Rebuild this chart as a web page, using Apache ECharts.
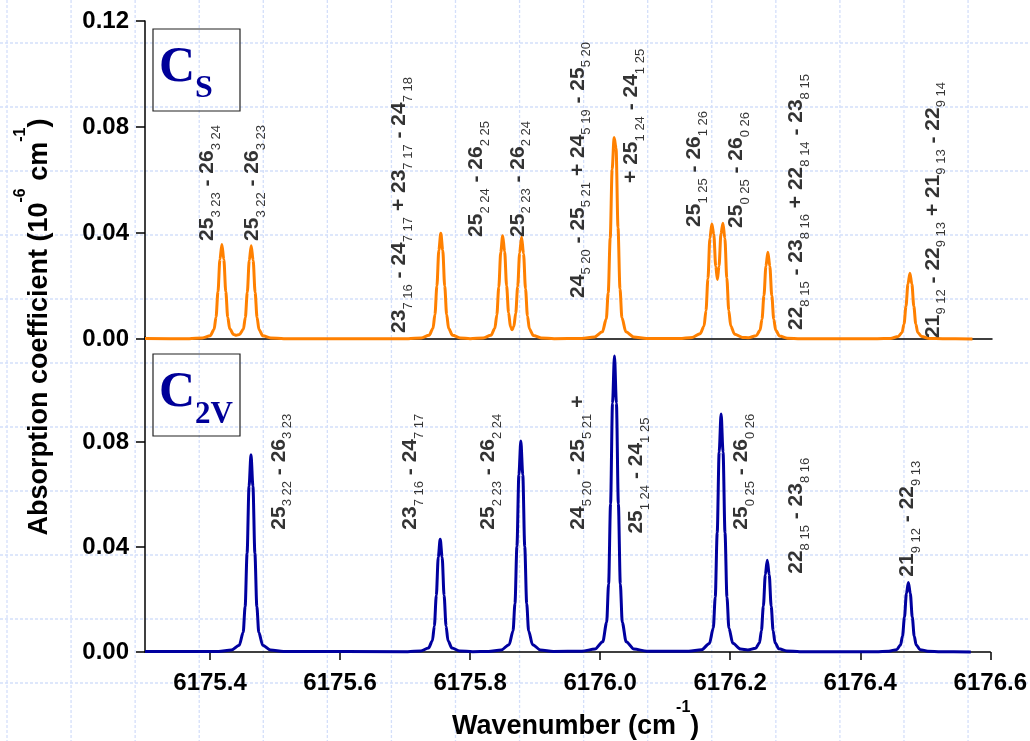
<!DOCTYPE html>
<html>
<head>
<meta charset="utf-8">
<script src="https://cdn.jsdelivr.net/npm/echarts@6/dist/echarts.min.js"></script>
<style>
  html, body { margin: 0; padding: 0; background: #fff; }
  #main { width: 1030px; height: 741px; }
</style>
</head>
<body>
<div id="main"></div>
<script>
// 两组模拟光谱：上面 Cs (橙色)，下面 C2v (蓝色)

// 横轴刻度
const xTicks = [6175.4, 6175.6, 6175.8, 6176.0, 6176.2, 6176.4, 6176.6];

// Cs 光谱 [波数, 吸收系数]
const csSpectrum = [
  [6175.300, 0.0002], [6175.368, 0.0001], [6175.388, 0.0004], [6175.400, 0.0012],
  [6175.406, 0.0036], [6175.409, 0.0082], [6175.412, 0.0179], [6175.415, 0.0300],
  [6175.418, 0.0357], [6175.421, 0.0300], [6175.424, 0.0179], [6175.427, 0.0082],
  [6175.430, 0.0039], [6175.436, 0.0017], [6175.440, 0.0014], [6175.445, 0.0017],
  [6175.451, 0.0037], [6175.454, 0.0081], [6175.457, 0.0176], [6175.460, 0.0296],
  [6175.463, 0.0352], [6175.466, 0.0296], [6175.469, 0.0176], [6175.472, 0.0081],
  [6175.475, 0.0035], [6175.481, 0.0012], [6175.493, 0.0004], [6175.513, 0.0001],
  [6175.704, 0.0001], [6175.724, 0.0004], [6175.736, 0.0014], [6175.742, 0.0040],
  [6175.745, 0.0092], [6175.748, 0.0200], [6175.751, 0.0335], [6175.754, 0.0399],
  [6175.757, 0.0335], [6175.760, 0.0200], [6175.763, 0.0092], [6175.766, 0.0040],
  [6175.772, 0.0014], [6175.784, 0.0004], [6175.799, 0.0001], [6175.819, 0.0004],
  [6175.831, 0.0014], [6175.837, 0.0041], [6175.840, 0.0091], [6175.843, 0.0196],
  [6175.846, 0.0327], [6175.849, 0.0390], [6175.852, 0.0330], [6175.855, 0.0201],
  [6175.858, 0.0100], [6175.861, 0.0045], [6175.8635, 0.0035], [6175.866, 0.0046],
  [6175.869, 0.0097], [6175.872, 0.0198], [6175.875, 0.0325], [6175.878, 0.0384],
  [6175.881, 0.0322], [6175.884, 0.0190], [6175.887, 0.0087], [6175.890, 0.0038],
  [6175.896, 0.0013], [6175.908, 0.0004], [6175.928, 0.0001], [6175.970, 0.0002],
  [6175.990, 0.0008], [6176.002, 0.0027], [6176.008, 0.0076], [6176.011, 0.0175],
  [6176.014, 0.0380], [6176.017, 0.0640], [6176.020, 0.0760], [6176.023, 0.0720],
  [6176.026, 0.0420], [6176.029, 0.0190], [6176.032, 0.0080], [6176.038, 0.0027],
  [6176.050, 0.0008], [6176.070, 0.0002], [6176.120, 0.0002], [6176.140, 0.0006],
  [6176.152, 0.0020], [6176.158, 0.0048], [6176.161, 0.0107], [6176.164, 0.0227],
  [6176.167, 0.0380], [6176.170, 0.0434], [6176.173, 0.0395], [6176.176, 0.0274],
  [6176.1785, 0.0225], [6176.181, 0.0275], [6176.184, 0.0397], [6176.187, 0.0437],
  [6176.190, 0.0380], [6176.193, 0.0229], [6176.196, 0.0108], [6176.199, 0.0049],
  [6176.205, 0.0018], [6176.217, 0.0006], [6176.226, 0.0005], [6176.238, 0.0012],
  [6176.244, 0.0033], [6176.247, 0.0075], [6176.250, 0.0164], [6176.253, 0.0275],
  [6176.256, 0.0327], [6176.259, 0.0275], [6176.262, 0.0164], [6176.265, 0.0075],
  [6176.268, 0.0033], [6176.274, 0.0011], [6176.286, 0.0003], [6176.306, 0.0001],
  [6176.424, 0.0001], [6176.444, 0.0002], [6176.456, 0.0009], [6176.462, 0.0025],
  [6176.465, 0.0057], [6176.468, 0.0124], [6176.471, 0.0208], [6176.474, 0.0248],
  [6176.477, 0.0208], [6176.480, 0.0124], [6176.483, 0.0057], [6176.486, 0.0025],
  [6176.492, 0.0009], [6176.504, 0.0002], [6176.524, 0.0001], [6176.570, 0.0000]
];

// C2v 光谱 [波数, 吸收系数]
const c2vSpectrum = [
  [6175.300, 0.0002], [6175.413, 0.0002], [6175.433, 0.0008], [6175.445, 0.0026],
  [6175.451, 0.0075], [6175.454, 0.0173], [6175.457, 0.0376], [6175.460, 0.0631],
  [6175.463, 0.0751], [6175.466, 0.0631], [6175.469, 0.0376], [6175.472, 0.0173],
  [6175.475, 0.0075], [6175.481, 0.0026], [6175.493, 0.0008], [6175.513, 0.0002],
  [6175.704, 0.0001], [6175.724, 0.0004], [6175.736, 0.0015], [6175.742, 0.0043],
  [6175.745, 0.0099], [6175.748, 0.0215], [6175.751, 0.0361], [6175.754, 0.0430],
  [6175.757, 0.0361], [6175.760, 0.0215], [6175.763, 0.0099], [6175.766, 0.0043],
  [6175.772, 0.0015], [6175.784, 0.0004], [6175.804, 0.0001], [6175.828, 0.0002],
  [6175.848, 0.0008], [6175.860, 0.0028], [6175.866, 0.0080], [6175.869, 0.0185],
  [6175.872, 0.0402], [6175.875, 0.0675], [6175.878, 0.0804], [6175.881, 0.0675],
  [6175.884, 0.0402], [6175.887, 0.0185], [6175.890, 0.0080], [6175.896, 0.0028],
  [6175.908, 0.0008], [6175.928, 0.0002], [6175.972, 0.0003], [6175.992, 0.0011],
  [6176.004, 0.0039], [6176.010, 0.0113], [6176.013, 0.0259], [6176.016, 0.0564],
  [6176.019, 0.0948], [6176.022, 0.1128], [6176.025, 0.0948], [6176.028, 0.0564],
  [6176.031, 0.0259], [6176.034, 0.0113], [6176.040, 0.0039], [6176.052, 0.0011],
  [6176.072, 0.0003], [6176.136, 0.0003], [6176.156, 0.0009], [6176.168, 0.0032],
  [6176.174, 0.0091], [6176.177, 0.0209], [6176.180, 0.0454], [6176.183, 0.0762],
  [6176.186, 0.0907], [6176.189, 0.0762], [6176.192, 0.0454], [6176.195, 0.0209],
  [6176.198, 0.0091], [6176.204, 0.0033], [6176.216, 0.0011], [6176.227, 0.0008],
  [6176.239, 0.0014], [6176.245, 0.0035], [6176.248, 0.0081], [6176.251, 0.0175],
  [6176.254, 0.0294], [6176.257, 0.0350], [6176.260, 0.0294], [6176.263, 0.0175],
  [6176.266, 0.0081], [6176.269, 0.0035], [6176.275, 0.0012], [6176.287, 0.0004],
  [6176.307, 0.0001], [6176.424, 0.0001], [6176.444, 0.0003], [6176.456, 0.0009],
  [6176.462, 0.0027], [6176.465, 0.0061], [6176.468, 0.0133], [6176.471, 0.0223],
  [6176.474, 0.0265], [6176.477, 0.0223], [6176.480, 0.0133], [6176.483, 0.0061],
  [6176.486, 0.0027], [6176.492, 0.0009], [6176.504, 0.0003], [6176.524, 0.0001],
  [6176.570, 0.0000]
];

// 谱线标注 [波数, 起点高度, 文字]，_{..} 为下标
const csLabels = [
  [6175.400, 0.0370, '25_{3 23} - 26_{3 24}'],
  [6175.469, 0.0370, '25_{3 22} - 26_{3 23}'],
  [6175.694, 0.0023, '23_{7 16} - 24_{7 17} + 23_{7 17} - 24_{7 18}'],
  [6175.812, 0.0385, '25_{2 24} - 26_{2 25}'],
  [6175.876, 0.0385, '25_{2 23} - 26_{2 24}'],
  [6175.968, 0.0155, '24_{5 20} - 25_{5 21} + 24_{5 19} - 25_{5 20}'],
  [6176.050, 0.0589, '+ 25_{1 24} - 24_{1 25}'],
  [6176.1465, 0.0423, '25_{1 25} - 26_{1 26}'],
  [6176.211, 0.0419, '25_{0 25} - 26_{0 26}'],
  [6176.303, 0.0034, '22_{8 15} - 23_{8 16} + 22_{8 14} - 23_{8 15}'],
  [6176.513, 0.0004, '21_{9 12} - 22_{9 13} + 21_{9 13} - 22_{9 14}']
];

const c2vLabels = [
  [6175.5095, 0.0466, '25_{3 22} - 26_{3 23}'],
  [6175.712, 0.0466, '23_{7 16} - 24_{7 17}'],
  [6175.832, 0.0466, '25_{2 23} - 26_{2 24}'],
  [6175.970, 0.0466, '24_{5 20} - 25_{5 21} +'],
  [6176.060, 0.0451, '25_{1 24} - 24_{1 25}'],
  [6176.221, 0.0466, '25_{0 25} - 26_{0 26}'],
  [6176.305, 0.0298, '22_{8 15} - 23_{8 16}'],
  [6176.4765, 0.0287, '21_{9 12} - 22_{9 13}']
];

const SANS = '"Liberation Sans", Arial, sans-serif';
const SERIF = '"Liberation Serif", "Times New Roman", serif';

// 把 _{..} 标记转成 rich 文本
const toRich = (s) =>
  ('{a|' + s.replace(/_\{([^}]*)\}/g, '}{s|$1}{a|') + '}').replace(/\{a\|\}/g, '');

const peakLabel = {
  show: true,
  position: 'inside',
  rotate: 90,
  align: 'left',
  verticalAlign: 'middle',
  formatter: (p) => toRich(p.data[2]),
  rich: {
    a: { fontFamily: SANS, fontSize: 21, fontWeight: 'bold', color: '#000', lineHeight: 20, verticalAlign: 'top' },
    s: { fontFamily: SANS, fontSize: 13, fontWeight: 'normal', color: '#000', lineHeight: 26, verticalAlign: 'bottom' }
  }
};

// 背景的浅蓝色虚线方格
const bgGraphics = [];
for (let x = 7; x < 1030; x += 64.07) {
  bgGraphics.push({
    type: 'line', z: -10, silent: true,
    shape: { x1: x, y1: 0, x2: x, y2: 741 },
    style: { stroke: '#d4dffa', lineWidth: 1.3, lineDash: [3, 2] }
  });
}
for (let y = -21; y < 741; y += 64) {
  bgGraphics.push({
    type: 'line', z: -10, silent: true,
    shape: { x1: 0, y1: y, x2: 1030, y2: y },
    style: { stroke: '#d4dffa', lineWidth: 1.3, lineDash: [3, 2] }
  });
}

// 对称性标签框
const symBox = (top, sub, subSize) => [
  {
    type: 'rect', z: 50, silent: true,
    shape: { x: 153, y: top, width: 87, height: 82 },
    style: { fill: null, stroke: '#222', lineWidth: 1.2 }
  },
  {
    type: 'text', z: 51, silent: true,
    x: 159, y: top + 45,
    style: {
      text: '{c|C}{s|' + sub + '}',
      align: 'left', verticalAlign: 'middle',
      rich: {
        c: { fontFamily: SERIF, fontSize: 50, fontWeight: 'bold', fill: '#000099', lineHeight: 44, verticalAlign: 'top' },
        s: { fontFamily: SERIF, fontSize: subSize, fontWeight: 'bold', fill: '#000099', lineHeight: 62, verticalAlign: 'bottom' }
      }
    }
  }
];

const yTitle = {
  type: 'text', z: 50, silent: true,
  x: 33, y: 327, rotation: Math.PI / 2,
  style: {
    text: '{t|Absorption coefficient (10}{p|-6}{t| cm}{p|-1}{t|)}',
    align: 'center', verticalAlign: 'middle',
    rich: {
      t: { fontFamily: SANS, fontSize: 27, fontWeight: 'bold', fill: '#000', lineHeight: 40, verticalAlign: 'bottom' },
      p: { fontFamily: SANS, fontSize: 16, fontWeight: 'bold', fill: '#000', lineHeight: 16, verticalAlign: 'top' }
    }
  }
};

const axisLineStyle = { color: '#000', width: 1.5 };
const yLabel = {
  fontFamily: SANS, fontSize: 24, fontWeight: 'bold', color: '#000', margin: 16,
  formatter: (v) => v.toFixed(2)
};

document.addEventListener('DOMContentLoaded', () => {
  const chart = echarts.init(document.getElementById('main'), null, { renderer: 'canvas' });

  const option = {
    animation: false,
    backgroundColor: '#fff',
    grid: [
      { left: 145, right: 38, top: 21, height: 318 },
      { left: 145, right: 38, top: 337, height: 321 }
    ],
    xAxis: [
      {
        type: 'value', gridIndex: 0, min: 6175.3, max: 6176.6,
        axisLine: { show: true, onZero: false, lineStyle: axisLineStyle },
        axisTick: { show: false },
        axisLabel: { show: false },
        splitLine: { show: false }
      },
      {
        type: 'value', gridIndex: 1, min: 6175.3, max: 6176.6,
        axisLine: { show: true, onZero: false, lineStyle: axisLineStyle },
        axisTick: { show: true, customValues: xTicks, length: 8, lineStyle: axisLineStyle },
        axisLabel: {
          customValues: xTicks,
          fontFamily: SANS, fontSize: 24, fontWeight: 'bold', color: '#000', margin: 19,
          formatter: (v) => v.toFixed(1)
        },
        splitLine: { show: false },
        name: '{t|Wavenumber (cm}{p|-1}{t|)}',
        nameLocation: 'middle',
        nameGap: 48,
        nameTextStyle: {
          padding: [0, 0, 0, 16],
          rich: {
            t: { fontFamily: SANS, fontSize: 27, fontWeight: 'bold', color: '#000', lineHeight: 40, verticalAlign: 'bottom' },
            p: { fontFamily: SANS, fontSize: 16, fontWeight: 'bold', color: '#000', lineHeight: 16, verticalAlign: 'top' }
          }
        }
      }
    ],
    yAxis: [
      {
        type: 'value', gridIndex: 0, min: 0, max: 0.12, interval: 0.04,
        axisLine: { show: true, lineStyle: axisLineStyle },
        axisTick: { show: true, length: 9, lineStyle: axisLineStyle },
        axisLabel: yLabel,
        splitLine: { show: false }
      },
      {
        type: 'value', gridIndex: 1, min: 0, max: 0.12, interval: 0.04,
        axisLine: { show: true, lineStyle: axisLineStyle },
        axisTick: { show: true, length: 9, lineStyle: axisLineStyle },
        axisLabel: Object.assign({ showMaxLabel: false }, yLabel),
        splitLine: { show: false }
      }
    ],
    series: [
      {
        name: 'Cs', type: 'line', xAxisIndex: 0, yAxisIndex: 0,
        data: csSpectrum, showSymbol: false, clip: false,
        smooth: 0.3, smoothMonotone: 'x',
        lineStyle: { color: '#ff8000', width: 3 }, z: 3
      },
      {
        name: 'C2v', type: 'line', xAxisIndex: 1, yAxisIndex: 1,
        data: c2vSpectrum, showSymbol: false, clip: false,
        smooth: 0.3, smoothMonotone: 'x',
        lineStyle: { color: '#00009f', width: 3 }, z: 3
      },
      {
        type: 'scatter', xAxisIndex: 0, yAxisIndex: 0, data: csLabels,
        symbolSize: 1, itemStyle: { color: 'rgba(0,0,0,0)' }, silent: true,
        label: peakLabel, z: 4
      },
      {
        type: 'scatter', xAxisIndex: 1, yAxisIndex: 1, data: c2vLabels,
        symbolSize: 1, itemStyle: { color: 'rgba(0,0,0,0)' }, silent: true,
        label: peakLabel, z: 4
      }
    ],
    graphic: bgGraphics.concat(symBox(29, 'S', 32), symBox(354, '2V', 31), [yTitle])
  };

  try {
    chart.setOption(option);
  } catch (error) {
    console.error('chart init failed: ' + error.message);
  }
});
</script>
</body>
</html>
